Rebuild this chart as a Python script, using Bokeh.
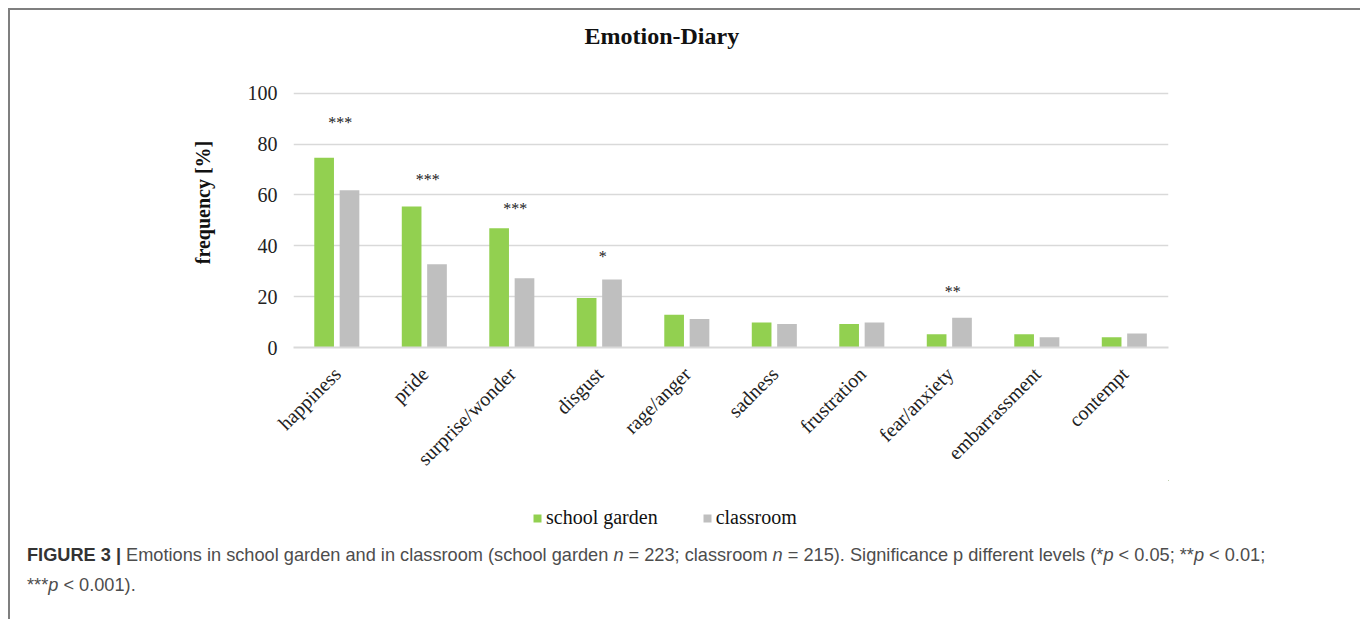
import math
from bokeh.plotting import figure
from bokeh.layouts import column
from bokeh.models import (Range1d, FixedTicker, Legend, LegendItem, Div,
                          ColumnDataSource, FactorRange)
from bokeh.transform import dodge
from bokeh.core.properties import value
from bokeh.embed import file_html
from bokeh.resources import INLINE

# ---------------- data ----------------
emotions = ["happiness", "pride", "surprise/wonder", "disgust", "rage/anger",
            "sadness", "frustration", "fear/anxiety", "embarrassment", "contempt"]
school_garden = [74.6, 55.5, 46.9, 19.5, 12.9, 9.8, 9.2, 5.2, 5.2, 4.0]
classroom = [61.8, 32.7, 27.2, 26.7, 11.2, 9.2, 9.8, 11.7, 4.0, 5.5]
significance = ["***", "***", "***", "*", "", "", "", "**", "", ""]
significance_y = [88.9, 66.5, 55.3, 36.4, 0, 0, 0, 22.5, 0, 0]
y_ticks = [0, 20, 40, 60, 80, 100]

GREEN = "#92d050"
GRAY = "#bfbfbf"
SERIF = "Liberation Serif"
W = 1345
H1 = 470   # chart
H2 = 55    # legend strip
H3 = 82    # caption

src = ColumnDataSource(dict(emotion=emotions, sg=school_garden, cr=classroom,
                            sig=significance, sig_y=significance_y))
x_range = FactorRange(factors=emotions)

# ---------------- main chart ----------------
p = figure(width=W, height=H1, x_range=x_range,
           y_range=Range1d(0, 114.06), output_backend="svg",
           toolbar_location=None, min_border_left=283, min_border_right=187,
           min_border_top=47, min_border_bottom=H1 - 339, title="Emotion-Diary")
p.outline_line_color = None
p.title.align = "left"
p.title.offset = 291
p.title.standoff = 17
p.title.text_font = SERIF
p.title.text_font_size = "24px"
p.title.text_font_style = "bold"
p.title.text_color = "#111111"

p.xgrid.grid_line_color = None
p.ygrid.grid_line_color = "#d9d9d9"
p.ygrid.grid_line_width = 1.5

p.yaxis.ticker = FixedTicker(ticks=y_ticks)
p.yaxis.axis_line_color = None
p.yaxis.major_tick_line_color = None
p.yaxis.minor_tick_line_color = None
p.yaxis.major_tick_in = 0
p.yaxis.major_tick_out = 0
p.yaxis.major_label_standoff = 16
p.yaxis.major_label_text_font = SERIF
p.yaxis.major_label_text_font_size = "20px"
p.yaxis.major_label_text_color = "#222222"
p.yaxis.axis_label = "frequency [%]"
p.yaxis.axis_label_text_font = SERIF
p.yaxis.axis_label_text_font_size = "20px"
p.yaxis.axis_label_text_font_style = "bold"
p.yaxis.axis_label_text_color = "#111111"
p.yaxis.axis_label_standoff = 31

p.xaxis.axis_line_color = "#d9d9d9"
p.xaxis.axis_line_width = 2
p.xaxis.major_tick_line_color = None
p.xaxis.major_tick_in = 0
p.xaxis.major_tick_out = 0
p.xaxis.major_label_orientation = math.pi / 4
p.xaxis.major_label_standoff = 23
p.xaxis.major_label_text_font = SERIF
p.xaxis.major_label_text_font_size = "20px"
p.xaxis.major_label_text_color = "#222222"

p.vbar(x=dodge("emotion", -0.15, range=x_range), top="sg", width=0.225,
       source=src, fill_color=GREEN, line_color=None)
p.vbar(x=dodge("emotion", 0.14, range=x_range), top="cr", width=0.225,
       source=src, fill_color=GRAY, line_color=None)

p.text(x=dodge("emotion", 0.034, range=x_range), y="sig_y", text="sig",
       source=src, text_align="center", text_baseline="middle", y_offset=1.5,
       text_font=value(SERIF), text_font_size="16px", text_color="#1a1a1a")

# ---------------- legend strip (same series, kept out of view) ----------------
p2 = figure(width=W, height=H2, x_range=x_range, y_range=Range1d(-1000, -999),
            output_backend="svg", toolbar_location=None, min_border=0,
            x_axis_location=None, y_axis_location=None)
p2.outline_line_color = None
p2.grid.visible = False
k1 = p2.vbar(x=dodge("emotion", 40, range=x_range), top="sg", bottom="sg",
             width=0, source=src, fill_color=GREEN, line_color=None)
k2 = p2.vbar(x=dodge("emotion", 40, range=x_range), top="cr", bottom="cr",
             width=0, source=src, fill_color=GRAY, line_color=None)
legend = Legend(items=[LegendItem(label="school garden", renderers=[k1]),
                       LegendItem(label="classroom", renderers=[k2])],
                orientation="horizontal", location=(239, 6),
                padding=0, margin=0, spacing=44, border_line_color=None,
                background_fill_alpha=0, glyph_width=10, glyph_height=10,
                label_standoff=4, label_text_font=SERIF,
                label_text_font_size="20px", label_text_color="#111111")
p2.add_layout(legend)

# ---------------- caption ----------------
caption_html = (
    '<div style="font-family:\'Liberation Sans\',Arial,sans-serif;font-size:18.2px;'
    'color:#4d4d4d;line-height:30px;padding-left:12px;padding-top:0px;'
    'white-space:nowrap">'
    '<b style="color:#333333">FIGURE 3 |</b> Emotions in school garden and in '
    'classroom (school garden <i>n</i> = 223; classroom <i>n</i> = 215). '
    'Significance p different levels (*<i>p</i> &lt; 0.05; **<i>p</i> &lt; 0.01;'
    '<br>***<i>p</i> &lt; 0.001).</div>'
)
caption = Div(text=caption_html, width=W, height=H3)

layout = column(p, p2, caption, spacing=0,
                styles={"border": "2px solid #7f7f7f", "margin-left": "8px",
                        "margin-top": "8px", "background-color": "white"})

open("out.html", "w").write(file_html(layout, INLINE))
